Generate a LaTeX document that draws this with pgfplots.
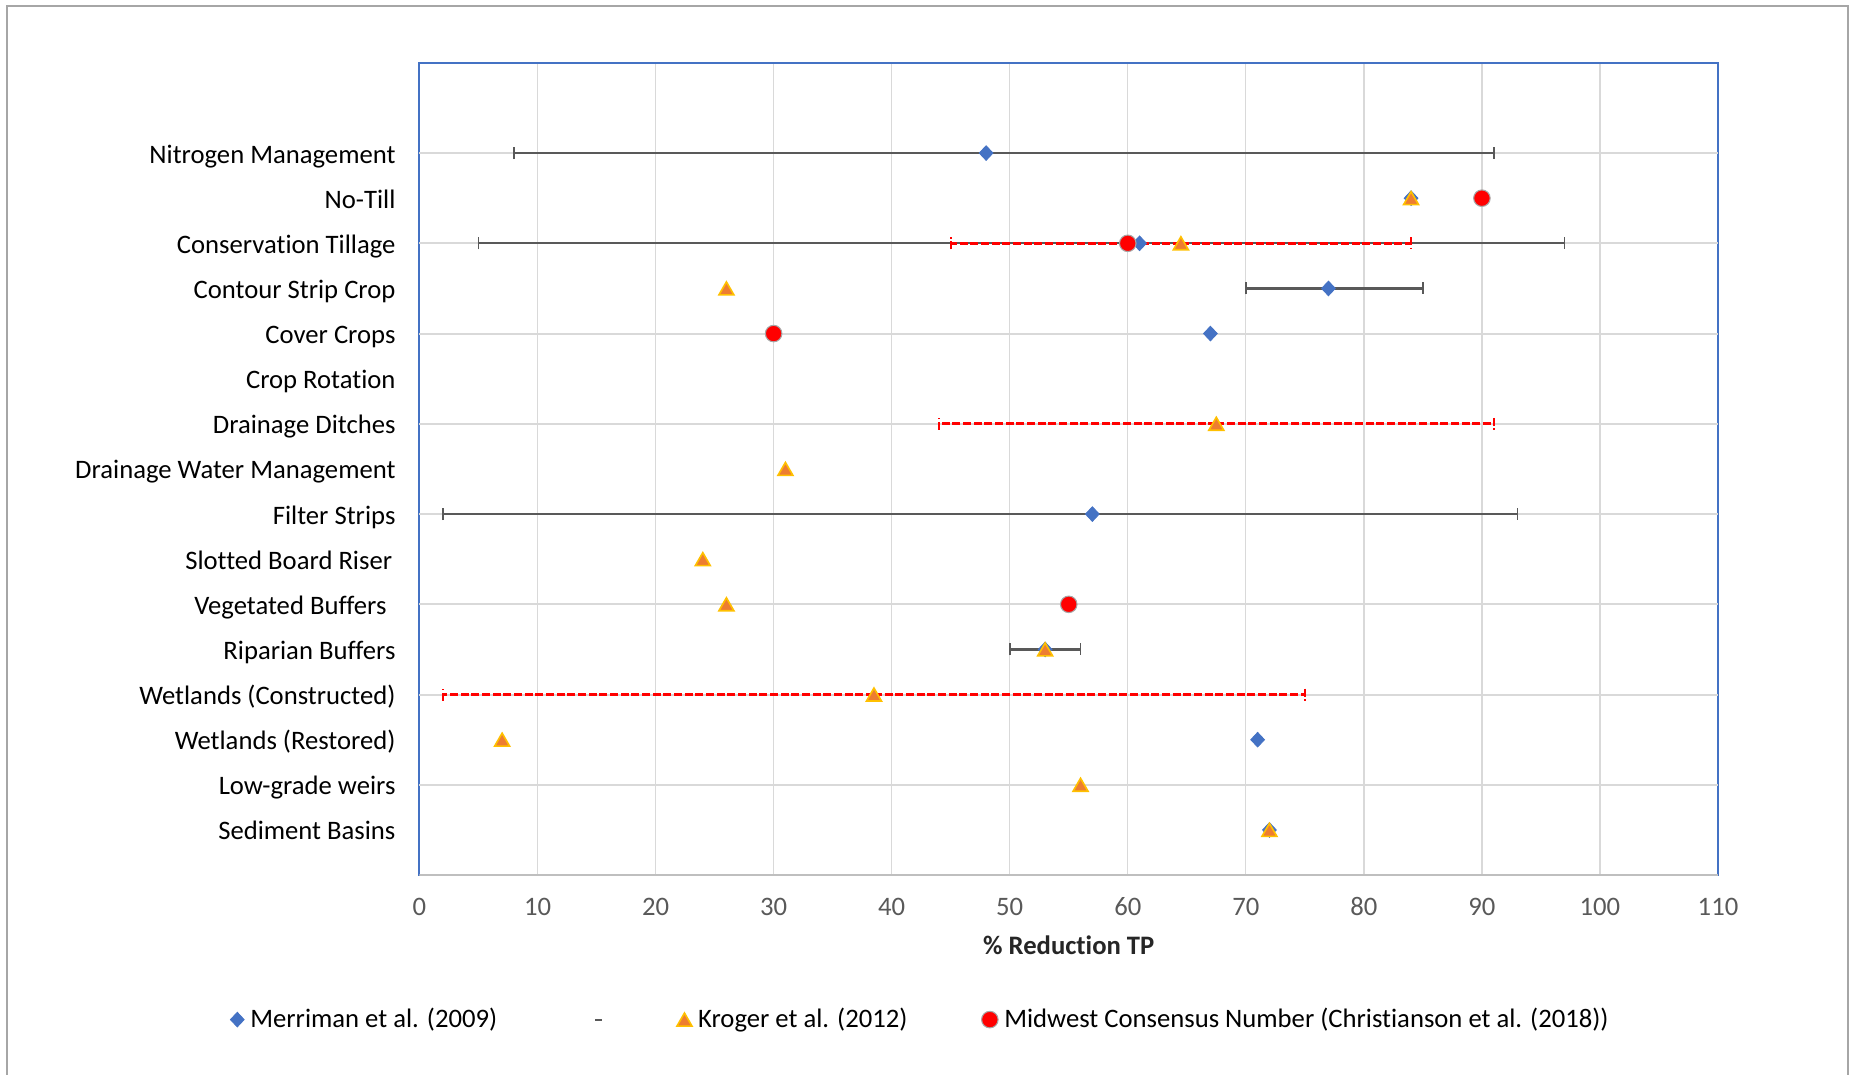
\documentclass[border=0pt]{standalone}
\usepackage{fontspec}
\setmainfont{Carlito}[Ligatures=NoCommon]
\usepackage{pgfplots}
\pgfplotsset{compat=1.18}
\usepackage{pgfplotstable}
\definecolor{mblue}{HTML}{4472C4}
\definecolor{korange}{HTML}{ED7D31}
\definecolor{kgold}{HTML}{FFC000}
\definecolor{gridc}{HTML}{D9D9D9}
\definecolor{errg}{HTML}{595959}
\definecolor{tickc}{HTML}{595959}
\definecolor{framec}{HTML}{A6A6A6}
\definecolor{botc}{HTML}{BFBFBF}

\pgfplotstableread{
x y
48 16
84 15
61 14
77 13
67 12
57 8
53 5
71 3
72 1
}\merriman
\pgfplotstableread{
x y em ep
48 16 40 43
61 14 56 36
77 13 7 8
57 8 55 36
53 5 3 3
}\merrerr
\pgfplotstableread{
x y
84 15
64.5 14
26 13
67.5 10
31 9
24 7
26 6
53 5
38.5 4
7 3
56 2
72 1
}\kroger
\pgfplotstableread{
x y em ep
64.5 14 19.5 19.5
67.5 10 23.5 23.5
38.5 4 36.5 36.5
}\krogerr
\pgfplotstableread{
x y
90 15
60 14
30 12
55 6
}\midwest

\begin{document}
\begin{tikzpicture}
\useasboundingbox (0,0) rectangle (694.875pt,402.75pt);
\draw[framec, line width=0.6pt] (2.6pt,-2pt) -- (2.6pt,400.5pt) -- (693pt,400.5pt) -- (693pt,-2pt);
\begin{axis}[
  at={(157.31pt,74.6pt)}, anchor=south west,
  scale only axis, width=486.94pt, height=304.6pt,
  xmin=0, xmax=110, ymin=0, ymax=18,
  xtick={0,10,...,110},
  ytick={1,...,16},
  yticklabels={Sediment Basins,Low-grade weirs,Wetlands (Restored),Wetlands (Constructed),Riparian Buffers,Vegetated Buffers\hspace*{3.4pt},Slotted Board Riser\hspace*{1.25pt},Filter Strips,Drainage Water Management,Drainage Ditches,Crop Rotation,Cover Crops,Contour Strip Crop,Conservation Tillage,No-Till,Nitrogen Management},
  extra y ticks={2,4,...,16},
  extra y tick labels={},
  extra y tick style={grid=major, major grid style={gridc, line width=0.75pt}},
  xmajorgrids=true,
  major grid style={gridc, line width=0.5pt},
  major tick length=0pt,
  tick style={draw=none},
  axis line style={mblue, line width=0.75pt},
  /pgf/number format/assume math mode=true,
  xticklabel style={text=tickc, anchor=base, yshift=-15pt, inner sep=0pt},
  yticklabel style={text=black, anchor=base east, yshift=-3.75pt, xshift=-8.8pt, inner sep=0pt},
  xlabel={\textbf{\% Reduction TP}},
  xlabel style={at={(axis description cs:0.5,0)}, anchor=base, yshift=-29.9pt, inner sep=0pt, text=black!85},
  legend image code/.code={\draw[mark repeat=2,mark phase=2,#1] plot coordinates {(-3.5pt,0pt) (0pt,0pt) (3.5pt,0pt)};},
  legend style={draw=none, fill=none, inner sep=0pt, outer sep=0pt,
    at={(axis description cs:0,0)}, anchor=west, xshift=-70.9pt, yshift=-54.2pt,
    legend columns=4, nodes={inner sep=0pt},
    /tikz/every odd column/.append style={column sep=2.3pt},
    /tikz/every even column/.append style={column sep=0pt}},
  legend cell align=left,
]
% error bars first
\addplot[forget plot, draw=none, mark=none,
  error bars/.cd, x dir=both, x explicit,
  error bar style={errg, line width=0.85pt, solid},
  error mark options={errg, line width=0.6pt, mark size=2.25pt, rotate=90}]
  table[x=x, y=y, x error plus=ep, x error minus=em]{\merrerr};
\addplot[forget plot, draw=none, mark=none,
  error bars/.cd, x dir=both, x explicit,
  error bar style={red, line width=1pt, dash pattern=on 3pt off 1pt},
  error mark options={red, line width=0.6pt, mark size=2.25pt, rotate=90, dash pattern=on 3pt off 1pt}]
  table[x=x, y=y, x error plus=ep, x error minus=em]{\krogerr};
% markers
\addplot[only marks, mark=diamond*, mark size=2.75pt,
  mark options={fill=mblue, draw=mblue, line width=0.3pt, xscale=1.25}]
  table[x=x, y=y]{\merriman};
\addlegendentry{\makebox[126.8pt][l]{Merriman et al. (2009)}}
\addlegendimage{legend image code/.code={\path (-3.5pt,0pt) (3.5pt,0pt); \draw[errg, line width=0.7pt] (-1.2pt,0pt) -- (1.2pt,0pt);}}
\addlegendentry{\makebox[23.5pt][l]{}}
\addplot[only marks, mark=triangle*, mark size=3.25pt,
  mark options={fill=korange, draw=kgold, line width=0.6pt, yshift=-0.8pt}]
  table[x=x, y=y]{\kroger};
\addlegendentry{\makebox[106.3pt][l]{Kroger et al. (2012)}}
\addplot[only marks, mark=*, mark size=3.1pt,
  mark options={fill=red, draw=gray!70, line width=0.4pt}]
  table[x=x, y=y]{\midwest};
\addlegendentry{Midwest Consensus Number (Christianson et al. (2018))}
\draw[botc, line width=0.75pt] (rel axis cs:0,0) -- (rel axis cs:1,0);
\end{axis}
\end{tikzpicture}
\end{document}
